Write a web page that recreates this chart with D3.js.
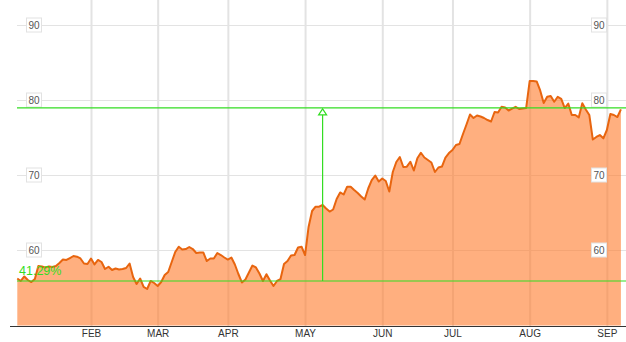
<!DOCTYPE html>
<html lang="en">
<head>
    <meta charset="UTF-8">
    <title>Price chart with gain marker</title>
    <script src="https://cdnjs.cloudflare.com/ajax/libs/d3/7.8.5/d3.min.js"></script>
    <style>
        body {
            margin: 0;
            padding: 0;
            background-color: #fff;
            font-family: Arial, "Liberation Sans", sans-serif;
        }
        svg { display: block; }
        .grid line { stroke: #e3e3e3; }
        .grid path { display: none; }
        .vgrid line { stroke: #e3e3e3; stroke-width: 2; }
        .months text { font-size: 10px; fill: #333; }
        .months path, .months line { display: none; }
    </style>
</head>
<body>
    <div id="chart"></div>

    <script>
        // Daily closes, one per trading day (Jan 2 .. Sep 6)
        const values = [
            56.20, 55.87, 56.47, 56.00, 55.73, 56.13, 57.87, 57.80, 57.67, 57.80,
            57.73, 57.87, 58.27, 58.73, 58.67, 58.93, 59.20, 59.11, 58.87, 58.20,
            58.13, 58.87, 58.07, 58.67, 58.40, 57.47, 57.77, 57.33, 57.53, 57.40,
            57.47, 57.60, 58.20, 56.40, 55.47, 56.20, 55.07, 54.80, 55.87, 55.60,
            55.20, 55.73, 56.67, 57.07, 58.40, 59.73, 60.44, 60.07, 60.13, 60.40,
            60.13, 59.60, 59.67, 59.67, 58.53, 58.87, 58.87, 59.60, 59.33, 59.00,
            58.73, 59.00, 58.07, 56.80, 55.67, 56.07, 57.00, 57.93, 57.67, 56.87,
            55.87, 56.77, 55.93, 55.20, 55.87, 56.13, 58.13, 58.53, 59.27, 59.33,
            60.33, 60.44, 59.33, 63.07, 65.20, 65.77, 65.77, 66.00, 65.53, 65.13,
            65.40, 66.80, 67.67, 67.40, 68.44, 68.44, 68.00, 67.60, 67.13, 66.73,
            68.20, 69.33, 69.93, 69.13, 69.53, 69.20, 67.80, 70.40, 71.73, 72.40,
            71.07, 71.11, 71.77, 70.60, 72.23, 72.97, 72.33, 72.00, 71.67, 70.40,
            71.00, 71.13, 72.33, 72.93, 73.33, 74.00, 74.13, 75.47, 76.73, 78.07,
            77.60, 77.93, 77.80, 77.60, 77.33, 77.13, 78.40, 78.33, 79.11, 79.00,
            78.60, 78.84, 79.09, 78.80, 78.87, 78.93, 82.53, 82.53, 82.47, 81.27,
            79.60, 80.43, 80.53, 79.77, 80.43, 80.16, 78.93, 79.53, 78.00, 78.00,
            77.69, 79.56, 78.73, 78.00, 74.73, 75.07, 75.33, 74.89, 76.00, 78.13,
            78.00, 77.73, 78.76
        ];

        // first trading day of each month (index into values)
        const monthLabels = ["FEB", "MAR", "APR", "MAY", "JUN", "JUL", "AUG", "SEP"];
        const monthStarts = [21, 40, 60, 82, 104, 124, 146, 168];

        const yTicks = [60, 70, 80, 90];

        // gain marker
        const lowLevel = 55.87;
        const highLevel = 78.94;
        const markerIndex = 87;
        const gainLabel = "41.29%";

        const width = 626;
        const height = 342;
        const axisY = 326;
        const green = "#33dd22";

        const svg = d3.select("#chart")
            .append("svg")
            .attr("width", width)
            .attr("height", height);

        const x = d3.scaleLinear()
            .domain([0, values.length - 1])
            .range([17.3, 620.9]);

        const y = d3.scaleLinear()
            .domain([60, 90])
            .range([250, 25]);

        // horizontal grid
        svg.append("g")
            .attr("class", "grid")
            .attr("transform", "translate(17,0)")
            .call(d3.axisLeft(y).tickValues(yTicks).tickSize(-(width - 17)).tickFormat(""));

        // vertical grid
        svg.append("g")
            .attr("class", "vgrid grid")
            .attr("transform", `translate(0,${axisY})`)
            .call(d3.axisBottom(x).tickValues(monthStarts).tickSize(-axisY).tickFormat(""));

        // area + line
        const area = d3.area()
            .x((d, i) => x(i))
            .y0(y(50) + 0.5)
            .y1(d => y(d));

        const line = d3.line()
            .x((d, i) => x(i))
            .y(d => y(d));

        svg.append("path")
            .datum(values)
            .attr("fill", "#ff7a2a")
            .attr("fill-opacity", 0.6)
            .attr("d", area);

        svg.append("path")
            .datum(values)
            .attr("fill", "none")
            .attr("stroke", "#e8650f")
            .attr("stroke-width", 2)
            .attr("stroke-linejoin", "round")
            .attr("d", line);

        // bottom axis line
        svg.append("line")
            .attr("x1", 10).attr("x2", width)
            .attr("y1", axisY + 0.5).attr("y2", axisY + 0.5)
            .attr("stroke", "#333");

        svg.append("g")
            .attr("class", "months")
            .attr("transform", `translate(0,${axisY})`)
            .call(d3.axisBottom(x).tickValues(monthStarts).tickSize(0).tickPadding(4)
                .tickFormat((d, i) => monthLabels[i]));

        // boxed y labels, left and right
        [34, 599].forEach(cx => {
            const g = svg.append("g");
            g.selectAll("rect")
                .data(yTicks)
                .enter().append("rect")
                .attr("x", cx - 7.5)
                .attr("y", d => y(d) - 7)
                .attr("width", 15)
                .attr("height", 14)
                .attr("fill", "#fff")
                .attr("stroke", "#e2e2e2");
            g.selectAll("text")
                .data(yTicks)
                .enter().append("text")
                .attr("x", cx)
                .attr("y", d => y(d))
                .attr("dy", "0.35em")
                .attr("text-anchor", "middle")
                .style("font-size", "10px")
                .style("fill", "#555")
                .text(d => d);
        });

        // gain marker lines
        [lowLevel, highLevel].forEach(v => {
            svg.append("line")
                .attr("x1", 17).attr("x2", width)
                .attr("y1", y(v)).attr("y2", y(v))
                .attr("stroke", green)
                .attr("stroke-width", 1.2);
        });

        const mx = x(markerIndex);
        const highY = y(highLevel);
        svg.append("line")
            .attr("x1", mx).attr("x2", mx)
            .attr("y1", y(lowLevel)).attr("y2", highY + 7)
            .attr("stroke", green)
            .attr("stroke-width", 1.2);

        svg.append("path")
            .attr("d", `M${mx},${highY + 1}L${mx + 4},${highY + 7}L${mx - 4},${highY + 7}Z`)
            .attr("fill", "#fff")
            .attr("stroke", green)
            .attr("stroke-width", 1.2);

        svg.append("text")
            .attr("x", 19)
            .attr("y", 275)
            .style("font-size", "12.5px")
            .style("fill", green)
            .text(gainLabel);
    </script>
</body>
</html>
